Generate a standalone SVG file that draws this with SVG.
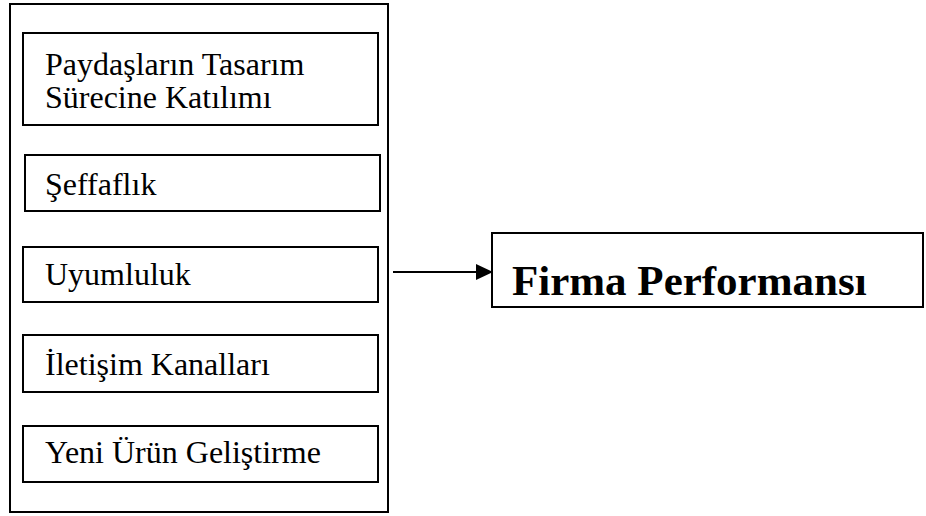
<svg xmlns="http://www.w3.org/2000/svg" width="926" height="516" viewBox="0 0 926 516">
<defs>
<style>
.box{fill:#fff;stroke:#000;stroke-width:2}
.t{font-family:"Liberation Serif","Times New Roman",serif;font-size:32px;fill:#000}
.b{font-family:"Liberation Serif","Times New Roman",serif;font-size:43px;font-weight:bold;fill:#000}
</style>
<marker id="ah" markerWidth="17" markerHeight="16" refX="16" refY="8" orient="auto" markerUnits="userSpaceOnUse" overflow="visible">
<path d="M0,0 L17,8 L0,16 Z" fill="#000"/>
</marker>
</defs>
<rect width="926" height="516" fill="#fff"/>
<g id="outer"><rect class="box" x="10" y="4" width="378" height="508"/></g>
<g id="n1"><rect class="box" x="23" y="33" width="355" height="92"/>
<text class="t" x="45" y="75">Paydaşların Tasarım</text>
<text class="t" x="45" y="108">Sürecine Katılımı</text></g>
<g id="n2"><rect class="box" x="25" y="155" width="355" height="56"/>
<text class="t" x="45" y="195">Şeffaflık</text></g>
<g id="n3"><rect class="box" x="23" y="247" width="355" height="55"/>
<text class="t" x="45" y="285">Uyumluluk</text></g>
<g id="n4"><rect class="box" x="23" y="335" width="355" height="57"/>
<text class="t" x="45" y="375">İletişim Kanalları</text></g>
<g id="n5"><rect class="box" x="23" y="426" width="355" height="56"/>
<text class="t" x="45" y="463">Yeni Ürün Geliştirme</text></g>
<g id="firma"><rect class="box" x="492" y="233" width="431" height="74"/>
<text class="b" x="512" y="295">Firma Performansı</text></g>
<g id="connectors">
<line x1="393" y1="272" x2="492" y2="272" stroke="#000" stroke-width="2" marker-end="url(#ah)"/>
</g>
</svg>
